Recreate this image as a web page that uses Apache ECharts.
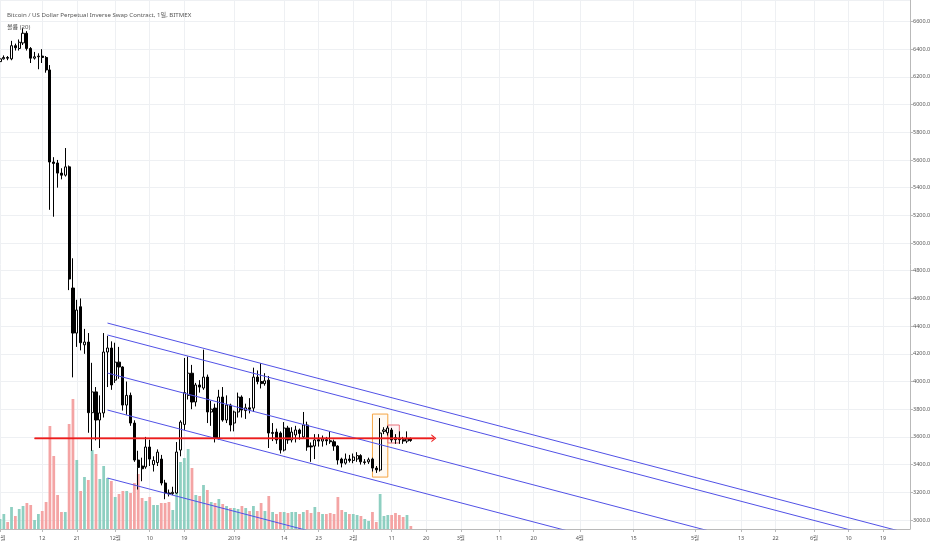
<!DOCTYPE html>
<html><head><meta charset="utf-8">
<script src="https://cdn.jsdelivr.net/npm/echarts@6/dist/echarts.min.js"></script>
<style>html,body{margin:0;padding:0;background:#fff}#c{width:932px;height:550px}</style>
</head><body><div id="c"></div>
<script>
// ---- axis data ----
const startDate = '2018-11-01';
const dayCount = 238;
const tickDates = ['2018-11-01','2018-11-12','2018-11-21','2018-12-01','2018-12-10','2018-12-19','2019-01-01','2019-01-14','2019-01-23','2019-02-01','2019-02-11','2019-02-20','2019-03-01','2019-03-11','2019-03-20','2019-04-01','2019-04-15','2019-05-01','2019-05-13','2019-05-22','2019-06-01','2019-06-10','2019-06-19'];
const tickLabels = ['11월','12','21','12월','10','19','2019','14','23','2월','11','20','3월','11','20','4월','15','5월','13','22','6월','10','19'];

// ---- daily candles from 2018-11-01 ----
const opens = [6310,6330,6340,6330,6425,6405,6445,6515,6405,6335,6345,6350,6340,6250,5585,5578,5505,5490,5550,4675,4350,4540,4265,4285,3775,3925,3722,3773,4213,4242,
4010,4140,4105,3830,3900,3700,3433,3390,3383,3527,3400,3415,3440,3267,3195,3190,3195,3505,3690,3900,4060,3852,3975,3953,4032,3780,3808,3592,3888,3722,3830,
3700,3780,3888,3790,3810,3808,4032,4000,3985,4010,3625,3635,3628,3505,3664,3578,3614,3650,3600,3686,3535,3534,3580,3570,3580,3572,3565,3534,3440,3411,3440,
3430,3440,3465,3415,3420,3440,3375,3361,3640,3630,3650,3595,3590,3580,3570,3585];
const highs = [6340,6355,6350,6460,6440,6470,6555,6530,6415,6380,6370,6400,6350,6285,5620,5600,5540,5686,5560,4890,4590,4600,4380,4350,4135,3960,3900,4350,4330,4290,
4280,4250,4110,4000,3920,3720,3500,3450,3600,3580,3460,3510,3470,3290,3220,3240,3563,3720,4170,4180,4120,3990,4010,4230,4050,3860,3840,3940,3960,3900,3840,
3790,3920,3900,3840,3880,4100,4080,4133,4060,4040,3700,3660,3640,3707,3680,3670,3680,3660,3780,3710,3560,3620,3620,3610,3600,3640,3580,3540,3450,3480,3470,
3480,3490,3475,3440,3450,3450,3390,3736,3670,3680,3665,3620,3640,3600,3640,3595];
const lows = [6300,6325,6320,6320,6390,6390,6430,6390,6300,6325,6255,6300,6230,5240,5190,5400,5460,5480,4660,4030,4250,4225,4200,3630,3500,3575,3520,3740,3960,3940,
3990,4020,3790,3760,3680,3420,3220,3280,3370,3390,3350,3390,3250,3150,3170,3180,3190,3460,3650,3870,3800,3820,3920,3940,3700,3680,3560,3580,3710,3700,3640,
3640,3740,3740,3730,3770,3780,3980,3950,3970,3520,3570,3550,3480,3495,3550,3560,3560,3580,3590,3500,3420,3440,3530,3530,3540,3550,3500,3400,3380,3400,3415,
3410,3420,3400,3400,3405,3350,3340,3350,3620,3610,3560,3550,3550,3550,3555,3565];
const closes = [6330,6340,6335,6425,6410,6450,6515,6405,6335,6345,6350,6340,6250,5585,5575,5505,5490,5550,4740,4350,4516,4280,4285,3775,3925,3722,3773,4213,4242,3975,
4140,4105,3830,3900,3700,3433,3380,3370,3527,3440,3430,3490,3267,3195,3190,3200,3491,3707,3920,4060,3852,3975,3960,4032,3780,3800,3592,3888,3722,3830,3686,
3780,3888,3794,3810,3800,4032,4000,3985,4005,3628,3632,3578,3505,3664,3578,3635,3650,3625,3686,3527,3528,3578,3570,3585,3572,3565,3534,3433,3411,3440,3430,
3455,3465,3420,3420,3435,3375,3362,3628,3650,3664,3578,3580,3580,3570,3585,3574];
const volumes = [100,150,70,220,130,200,230,260,240,90,150,180,270,
1030,730,340,170,170,1050,1300,690,380,520,490,790,750,500,630,510,480,
320,350,380,380,360,460,550,310,280,320,240,240,260,260,270,190,
460,670,710,800,610,340,330,440,390,270,260,300,250,230,210,
210,200,230,210,180,230,180,260,180,330,
170,150,170,170,160,170,170,150,170,190,160,220,170,150,150,160,150,320,190,170,150,
150,140,130,100,80,170,70,350,130,140,140,160,140,120,140,30];

// ---- drawings ----
const channelStartDate = '2018-11-29';
const channelEndDate = '2019-06-26';
const channelStartPrices = [4422, 4336, 4061, 3794, 3303];
const channelEndPrices = [2900, 2815, 2540, 2272, 1782];
const redLineFrom = '2018-11-10', redLineTo = '2019-02-22', redLinePrice = 3590;
const orangeBox = ['2019-02-06', '2019-02-10', 3765, 3310];
const pinkBox = ['2019-02-10', '2019-02-13', 3686, 3556];

// ---- build ----
const categories = [];
const t0 = Date.parse(startDate + 'T00:00:00Z');
for (let i = 0; i < dayCount; i++) categories.push(new Date(t0 + i * 86400000).toISOString().slice(0, 10));
const labelOf = {};
tickDates.forEach((d, i) => { labelOf[d] = tickLabels[i]; });
const isTick = (idx, val) => labelOf[val !== undefined ? val : categories[idx]] !== undefined;

const candleData = opens.map((o, i) => [o, closes[i], lows[i], highs[i]]);
const upVol = '#8ecfc1', downVol = '#f4a4a4';
const volData = volumes.map((v, i) => ({ value: v, itemStyle: { color: closes[i] >= opens[i] ? upVol : downVol } }));
const lastClose = closes[closes.length - 1];

const FONT = '"Noto Sans", "Noto Sans CJK KR", sans-serif';
const gridColor = '#eef0f3';
const axisColor = '#b9b9b9';
const RED = '#ee1c1c';

const channelSeries = channelStartPrices.map((p, i) => ({
  type: 'line', xAxisIndex: 0, yAxisIndex: 0, symbol: 'none', silent: true, z: 5,
  lineStyle: { color: '#5151e6', width: 1 },
  data: [[channelStartDate, p], [channelEndDate, channelEndPrices[i]]]
}));

const chart = echarts.init(document.getElementById('c'), null, { renderer: 'canvas' });
chart.setOption({
  animation: false,
  backgroundColor: '#ffffff',
  textStyle: { fontFamily: FONT },
  title: [
    { text: 'Bitcoin / US Dollar Perpetual Inverse Swap Contract, 1일, BITMEX', left: 2, top: 7,
      textStyle: { fontSize: 6.1, fontWeight: 'normal', color: '#555', fontFamily: FONT } },
    { text: '볼륨 (20)', left: 2, top: 19,
      textStyle: { fontSize: 6.1, fontWeight: 'normal', color: '#555', fontFamily: FONT } }
  ],
  grid: [
    { left: 0, right: 22, top: 0, bottom: 21, outerBoundsMode: 'none', containLabel: false },
    { left: 0, right: 22, bottom: 21, height: 200, outerBoundsMode: 'none', containLabel: false }
  ],
  xAxis: [
    { type: 'category', gridIndex: 0, data: categories, boundaryGap: false,
      axisLine: { lineStyle: { color: axisColor } },
      axisTick: { show: true, interval: isTick, length: 3, lineStyle: { color: axisColor } },
      axisLabel: { interval: isTick, formatter: v => labelOf[v], fontSize: 5.5, color: '#555', margin: 7, fontFamily: FONT },
      splitLine: { show: true, interval: isTick, lineStyle: { color: gridColor } } },
    { type: 'category', gridIndex: 1, data: categories, boundaryGap: false, show: false }
  ],
  yAxis: [
    { type: 'value', gridIndex: 0, position: 'right', min: 2935, max: 6755, splitNumber: 19,
      axisLine: { show: true, lineStyle: { color: axisColor } },
      axisTick: { show: true, length: 3, lineStyle: { color: axisColor } },
      axisLabel: { fontSize: 5.5, color: '#555', margin: 3, showMinLabel: false, showMaxLabel: false,
        formatter: v => v.toFixed(1), fontFamily: FONT },
      splitLine: { show: true, lineStyle: { color: gridColor } } },
    { type: 'value', gridIndex: 1, min: 0, max: 2000, show: false }
  ],
  series: [
    { type: 'bar', xAxisIndex: 1, yAxisIndex: 1, data: volData, barWidth: '72%', z: 1, silent: true },
    { type: 'candlestick', xAxisIndex: 0, yAxisIndex: 0, data: candleData, barWidth: '68%', z: 4, silent: true,
      itemStyle: { color: '#ffffff', color0: '#000000', borderColor: '#000000', borderColor0: '#000000', borderWidth: 1 },
      markArea: { silent: true,
        data: [
          [ { coord: [orangeBox[0], orangeBox[2]], itemStyle: { color: 'rgba(255,170,60,0.06)', borderColor: '#f5a442', borderWidth: 1 } },
            { coord: [orangeBox[1], orangeBox[3]] } ],
          [ { coord: [pinkBox[0], pinkBox[2]], itemStyle: { color: 'rgba(235,90,100,0.06)', borderColor: '#e8707a', borderWidth: 1 } },
            { coord: [pinkBox[1], pinkBox[3]] } ]
        ] },
      markLine: { silent: true, symbol: 'none', animation: false,
        lineStyle: { opacity: 0 },
        label: { show: true, position: 'end', distance: 3, formatter: lastClose.toFixed(1),
          backgroundColor: '#000', color: '#fff', fontSize: 5.5, padding: [2, 2], fontFamily: FONT },
        data: [{ yAxis: lastClose }] } },
    ...channelSeries,
    { type: 'line', xAxisIndex: 0, yAxisIndex: 0, silent: true, z: 6, symbol: 'none',
      lineStyle: { color: RED, width: 1.4 },
      data: [[redLineFrom, redLinePrice], [redLineTo, redLinePrice]],
      markLine: { silent: true, animation: false, symbol: ['none', 'path://M0,10 L5,0 L10,10 L8.3,10 L5,3.2 L1.7,10 Z'],
        symbolSize: [8, 5], symbolOffset: [0, 0],
        lineStyle: { color: RED, width: 1.4, type: 'solid' }, itemStyle: { color: RED },
        label: { show: false },
        data: [[ { coord: [redLineFrom, redLinePrice] }, { coord: [redLineTo, redLinePrice] } ]] } }
  ]
});
</script></body></html>
